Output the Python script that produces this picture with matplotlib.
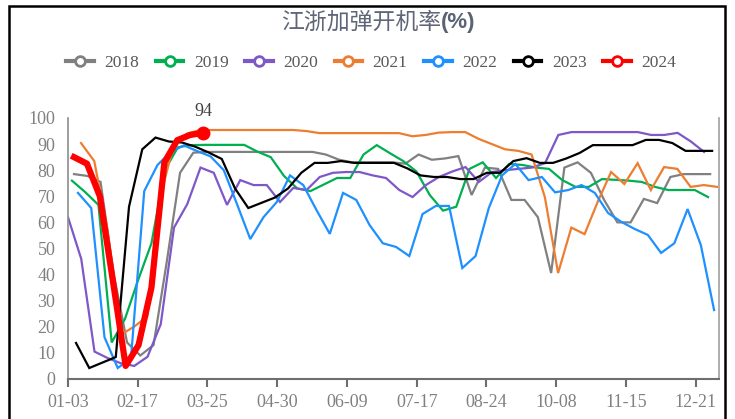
import matplotlib.pyplot as plt
import numpy as np
from matplotlib.lines import Line2D
from matplotlib.patches import Rectangle

plt.rcParams['font.family'] = ['Liberation Serif', 'Noto Sans CJK SC']

# category axis: tick label every 6 categories
tick_labels = ['01-03', '02-17', '03-25', '04-30', '06-09', '07-17',
               '08-24', '10-08', '11-15', '12-21']
tick_pos = np.arange(0, 55, 6)

years = ['2018', '2019', '2020', '2021', '2022', '2023', '2024']
colors = ['#808080', '#00b050', '#7e57c8', '#ed7d31', '#1e90ff', '#000000', '#ff0000']

# weekly operating rate (%) per year
v2018 = [78.5, 77.8, 75.5, 40, 14, 9, 13, 45, 79, 86.7, 87, 87, 87, 87, 87, 87,
         87, 87, 87, 86, 84, 83, 83, 83, 83, 82.5, 86, 84, 84.5, 85.4, 70.5, 81,
         80.5, 68.6, 68.6, 62, 40.6, 81, 83, 79, 68.6, 60, 60, 69, 67.4, 77.4,
         78.5, 78.5, 78.5]
v2019 = [76, 71.6, 66.7, 14, 23, 38, 52, 80, 88.8, 89.6, 89.7, 89.7, 89.7, 89.7,
         87.1, 85, 77.8, 73, 72, 74.5, 77, 77, 86, 89.6, 86.5, 83.5, 79.5, 70.5,
         64.5, 66, 80.5, 83, 77, 82.4, 82, 81, 80.5, 76.2, 73.6, 73.6, 76.6, 76.3,
         76, 75.5, 73.6, 72.4, 72.4, 72.4, 69.7]
v2020 = [62, 46, 10.5, 8, 6, 5, 8.5, 21, 58, 67, 81, 79, 66.7, 76.2, 74.3, 74.3,
         67.8, 73.2, 72.4, 77.4, 79, 79.3, 79.3, 78, 77, 72.4, 69.7, 74.3, 77.4,
         79.5, 81.2, 75.5, 79.3, 80, 80.5, 81, 82.7, 93.5, 94.6, 94.6, 94.6, 94.6,
         94.6, 94.6, 93.5, 93.5, 94.3, 91, 87]
v2021 = [90.4, 83.5, 57, 17, 20, 24, 70, 90, 94, 95.4, 95.4, 95.4, 95.4, 95.4,
         95.4, 95.4, 95.4, 95, 94.2, 94.2, 94.2, 94.2, 94.2, 94.2, 94.2, 93, 93.5,
         94.4, 94.6, 94.6, 92, 90, 88, 87.4, 86, 69.7, 40.6, 58, 55.5, 68, 79.3,
         74.7, 82.7, 72.4, 81.2, 80.5, 73.6, 74.3, 73.6]
v2022 = [71.3, 65.5, 16, 4.2, 8, 72, 82, 87, 89.5, 87.3, 85.3, 80, 67, 53.6, 62,
         67.8, 78, 74.3, 64.7, 55.6, 71.3, 68.6, 59, 52, 50.6, 47.1, 63.2, 66.3,
         66.3, 42.5, 47.1, 65.5, 78, 82.4, 76.2, 77.4, 71.5, 72.4, 74.3, 71.3, 63.6,
         60.2, 57.5, 55.2, 48.3, 52, 65.1, 51.3, 26.4]
v2023 = [13.8, 4.2, 6.3, 8.4, 66, 88, 92.5, 91, 90.6, 89, 86.8, 84.3, 73, 65.5,
         67.5, 69.5, 73, 79, 82.8, 82.8, 83.5, 82.8, 82.8, 82.8, 82.8, 80.7, 78,
         77.4, 77.4, 76.6, 76.6, 79, 79, 83.5, 84.6, 82.8, 82.8, 84.5, 86.6, 89.6,
         89.6, 89.6, 89.6, 91.6, 91.6, 90.4, 87.4, 87.4, 87.4]
v2024 = [85, 82.5, 70, 38, 5, 13, 35, 83, 91.5, 93.5, 94.3]

series = [v2018, v2019, v2020, v2021, v2022, v2023, v2024]
# first week position and week step on the category axis
x_start = [0.52, 0.34, 0.0, 1.12, 0.86, 0.69, 0.52]
x_step = [1.14, 1.14, 1.14, 1.14, 1.14, 1.14, 1.11]

fig = plt.figure(figsize=(7.35, 4.19), dpi=100)
ax = fig.add_axes([0.0925, 0.0955, 0.8857, 0.6229])

for vals, c, s0, st, yr in zip(series, colors, x_start, x_step, years):
    x = s0 + st * np.arange(len(vals))
    lw = 4.5 if yr == '2024' else 1.6
    ax.plot(x, vals, color=c, lw=lw, solid_joinstyle='miter' if lw < 2 else 'round')
    if yr == '2024':
        ax.plot(x[-1], vals[-1], 'o', color=c, ms=9)
        ax.annotate(f'{vals[-1]:.0f}', (x[-1], vals[-1]), xytext=(0, 9),
                    textcoords='offset points', ha='center', va='bottom',
                    fontsize=13, color='#404040')

ax.set_xlim(0, 56)
ax.set_ylim(0, 100)
ax.set_yticks(range(0, 101, 10))
ax.set_xticks(tick_pos)
ax.set_xticklabels(tick_labels)
ax.tick_params(axis='y', length=0, pad=9, labelsize=13, labelcolor='#808080')
ax.tick_params(axis='x', length=6, width=1.5, color='#6e6e6e', pad=5,
               labelsize=13, labelcolor='#808080')
ax.spines['top'].set_visible(False)
ax.spines['bottom'].set_color('#6e6e6e')
ax.spines['bottom'].set_linewidth(1.5)
ax.spines['left'].set_color('#8c8c8c')
ax.spines['right'].set_color('#a0a0a0')
ax.spines['left'].set_linewidth(1.2)
ax.spines['right'].set_linewidth(1.2)

# title
fig.text(0.600, 0.947, '江浙加弹开机率', ha='right', va='center', fontsize=16.5,
         family=['Noto Sans CJK SC'], color='#5f6678')
fig.text(0.600, 0.947, '(%)', ha='left', va='center', fontsize=16,
         family=['Liberation Sans'], weight='bold', color='#5a6275')

handles = [Line2D([], [], color=c, lw=3, marker='o', ms=7, mfc='white', mew=2)
           for c in colors]
fig.legend(handles, years, loc='center', bbox_to_anchor=(0.505, 0.85), ncol=7,
           frameon=False, prop={'family': 'Liberation Serif', 'size': 12.5},
           handlelength=1.6, handletextpad=0.6, columnspacing=0.95,
           labelcolor='#595959')

# outer frame
fig.add_artist(Rectangle((0.012, -0.01), 0.974, 0.996, transform=fig.transFigure,
                         fill=False, edgecolor='black', lw=1.8))

fig.savefig('out.png', dpi=100)
